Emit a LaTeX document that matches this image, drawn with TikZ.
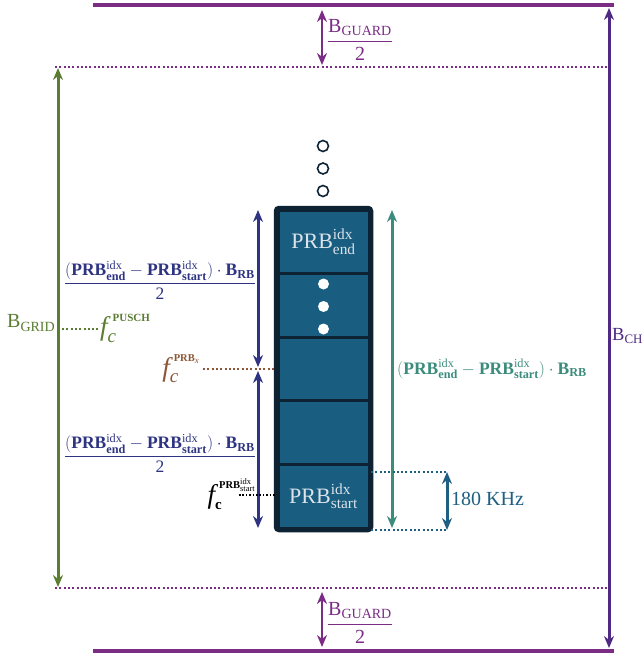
\documentclass[tikz,border=0pt]{standalone}
\usepackage{amsmath}
\usepackage{fontspec}
\setmainfont{Liberation Serif}
\usetikzlibrary{arrows.meta}
\definecolor{guardc}{HTML}{7B2C85}
\definecolor{chc}{HTML}{4E2A84}
\definecolor{gridc}{HTML}{5A7D32}
\definecolor{navyc}{HTML}{2E3482}
\definecolor{brownc}{HTML}{8C5637}
\definecolor{tealc}{HTML}{3C8C7D}
\definecolor{bluec}{HTML}{1E5F82}
\definecolor{cellc}{HTML}{195D80}
\definecolor{borderc}{HTML}{0D2334}
\definecolor{celltxt}{HTML}{DCE3EA}
\newcommand{\bigf}{\text{\fontsize{27}{30}\selectfont\itshape f}}
\newcommand{\bigc}{\text{\fontsize{19}{21}\selectfont\itshape c}}
\newcommand{\bfc}{\text{\fontsize{15}{17}\selectfont\bfseries c}}
\newcommand{\suptx}[2]{\text{\fontsize{#1}{#1}\selectfont #2}}
\tikzset{
  bandline/.style={line width=4.5pt, draw=guardc},
  dotline/.style={line width=2pt, dash pattern=on 2pt off 2.3pt},
  dblarrow/.style={{Stealth[length=12pt,width=10pt]}-{Stealth[length=12pt,width=10pt]}, line width=3pt},
  cellbox/.style={draw=borderc, line width=3pt, fill=cellc, minimum width=91pt, minimum height=63.6pt, inner sep=0pt,
    text=celltxt, font=\fontsize{22}{26}\selectfont},
  opendot/.style={circle, draw=borderc, line width=1.6pt, fill=white, minimum size=11pt, inner sep=0pt},
  whitedot/.style={circle, fill=white, minimum size=11pt, inner sep=0pt},
  lbl/.style={inner sep=0pt, font=\fontsize{20}{24}\selectfont},
  flbl/.style={inner sep=0pt, font=\fontsize{17.5}{21}\selectfont},
  fclbl/.style={inner sep=0pt, font=\fontsize{16}{20}\selectfont},
}
\begin{document}
\begin{tikzpicture}[x=1pt,y=-1pt]
\path[fill=white] (0,0) rectangle (644,656);
\useasboundingbox (0,0) rectangle (644,656);

% channel edges
\coordinate (topL) at (93,5);   \coordinate (topR) at (614,5);
\coordinate (botL) at (93,651); \coordinate (botR) at (614,651);
\draw[bandline] (topL) -- (topR);
\draw[bandline] (botL) -- (botR);

% grid edges (dotted)
\coordinate (gridTL) at (55,67);  \coordinate (gridTR) at (610,67);
\coordinate (gridBL) at (55,588); \coordinate (gridBR) at (610,588);
\draw[dotline, draw=guardc] (gridTL) -- (gridTR);
\draw[dotline, draw=guardc] (gridBL) -- (gridBR);

% guard arrows
\coordinate (gtA) at (322,10);  \coordinate (gtB) at (322,65);
\coordinate (gbA) at (322,592); \coordinate (gbB) at (322,647);
\draw[dblarrow, draw=guardc, fill=guardc, line width=2.2pt] (gtA) -- (gtB);
\draw[dblarrow, draw=guardc, fill=guardc, line width=2.2pt] (gbA) -- (gbB);
\node[lbl, text=guardc] (gtL) at (360,40) {$\dfrac{\mathrm{B}_{\mathrm{GUARD}}}{\mathrm{2}}$};
\node[lbl, text=guardc] (gbL) at (360,623) {$\dfrac{\mathrm{B}_{\mathrm{GUARD}}}{\mathrm{2}}$};

% B_CH arrow
\coordinate (chT) at (609,8); \coordinate (chB) at (609,648);
\draw[dblarrow, draw=chc, fill=chc] (chT) -- (chB);
\node[inner sep=0pt, font=\fontsize{18.5}{22}\selectfont, text=chc, anchor=west] (chL) at (612,336) {$\mathrm{B}_{\mathrm{CH}}$};

% B_GRID arrow
\coordinate (grT) at (58,68); \coordinate (grB) at (58,587);
\draw[dblarrow, draw=gridc, fill=gridc] (grT) -- (grB);
\node[lbl, text=gridc, anchor=west] (grL) at (7,323) {$\mathrm{B}_{\mathrm{GRID}}$};
\node[fclbl, text=gridc, anchor=west] (pusch) at (100,328) {$\bigf_{\bigc}^{\hspace{5pt}\suptx{11}{\bfseries PUSCH}}$};
\coordinate (puschS) at (62,329);
\draw[dotline, draw=gridc] (puschS) -- (pusch.west |- puschS);

% stack of PRBs
\node[fill=borderc, draw=borderc, line width=4pt, rounded corners=3pt, minimum width=91pt, minimum height=318pt, inner sep=0pt] (stack) at (323.5,369) {};
\node[cellbox] (c1) at (323.5,241.8) {$\mathrm{PRB}^{\mathrm{idx}}_{\mathrm{end}}$};
\node[cellbox] (c2) at (323.5,305.4) {};
\node[cellbox] (c3) at (323.5,369) {};
\node[cellbox] (c4) at (323.5,432.6) {};
\node[cellbox] (c5) at (323.5,496.2) {$\mathrm{PRB}^{\mathrm{idx}}_{\mathrm{start}}$};
\draw[borderc, line width=4.5pt, rounded corners=3pt] (stack.north west) rectangle (stack.south east);
\node[whitedot] (w1) at (323.5,284) {};
\node[whitedot] (w2) at (323.5,306.5) {};
\node[whitedot] (w3) at (323.5,329) {};
\node[opendot] (o1) at (323,146) {};
\node[opendot] (o2) at (323,168.5) {};
\node[opendot] (o3) at (323,191) {};

% navy half arrows
\coordinate (nvT) at (258,210); \coordinate (nvM1) at (258,367);
\coordinate (nvM2) at (258,371); \coordinate (nvB) at (258,528);
\draw[dblarrow, draw=navyc, fill=navyc] (nvT) -- (nvM1);
\draw[dblarrow, draw=navyc, fill=navyc] (nvM2) -- (nvB);
\node[flbl, text=navyc] (nvL1) at (160,280) {$\dfrac{\mathrm{(}\mathbf{PRB}^{\mathrm{idx}}_{\mathbf{end}}-\mathbf{PRB}^{\mathrm{idx}}_{\mathbf{start}}\mathrm{)}\cdot\mathbf{B}_{\mathbf{RB}}}{\mathrm{2}}$};
\node[flbl, text=navyc] (nvL2) at (160,453) {$\dfrac{\mathrm{(}\mathbf{PRB}^{\mathrm{idx}}_{\mathbf{end}}-\mathbf{PRB}^{\mathrm{idx}}_{\mathbf{start}}\mathrm{)}\cdot\mathbf{B}_{\mathbf{RB}}}{\mathrm{2}}$};

% f_c^{PRB_x}
\node[fclbl, text=brownc, anchor=east] (fx) at (200,369) {$\bigf_{\bigc}^{\hspace{4pt}\suptx{10.5}{\bfseries PRB}_{\suptx{9}{\itshape x}}}$};
\coordinate (fxS) at (203,369);
\draw[dotline, draw=brownc] (fxS) -- (stack.west |- fxS);

% f_c^{PRB_start}
\coordinate (fsS) at (239,495);
\draw[dotline, line width=1.6pt, dash pattern=on 1.6pt off 1.8pt] (fsS) -- (stack.west |- fsS);
\node[fclbl, anchor=east] (fs) at (256,494) {$\bigf_{\bfc}^{\hspace{4pt}\suptx{10.5}{\bfseries PRB}^{\suptx{8.5}{idx}}_{\suptx{8.5}{start}}}$};

% teal full arrow
\coordinate (tlT) at (392,210); \coordinate (tlB) at (392,528);
\draw[dblarrow, draw=tealc, fill=tealc] (tlT) -- (tlB);
\node[flbl, text=tealc, anchor=west] (tlL) at (397,369) {$\mathrm{(}\mathbf{PRB}^{\mathrm{idx}}_{\mathbf{end}}-\mathbf{PRB}^{\mathrm{idx}}_{\mathbf{start}}\mathrm{)}\cdot\mathbf{B}_{\mathbf{RB}}$};

% 180 KHz
\coordinate (kA) at (371,472); \coordinate (kB) at (447,472);
\coordinate (kC) at (371,530); \coordinate (kD) at (447,530);
\draw[dotline, draw=bluec] (kA) -- (kB);
\draw[dotline, draw=bluec] (kC) -- (kD);
\draw[dblarrow, draw=bluec, fill=bluec] (kB) -- (kD);
\node[lbl, text=bluec, anchor=west] (kL) at (451,499) {180 KHz};
\end{tikzpicture}
\end{document}
